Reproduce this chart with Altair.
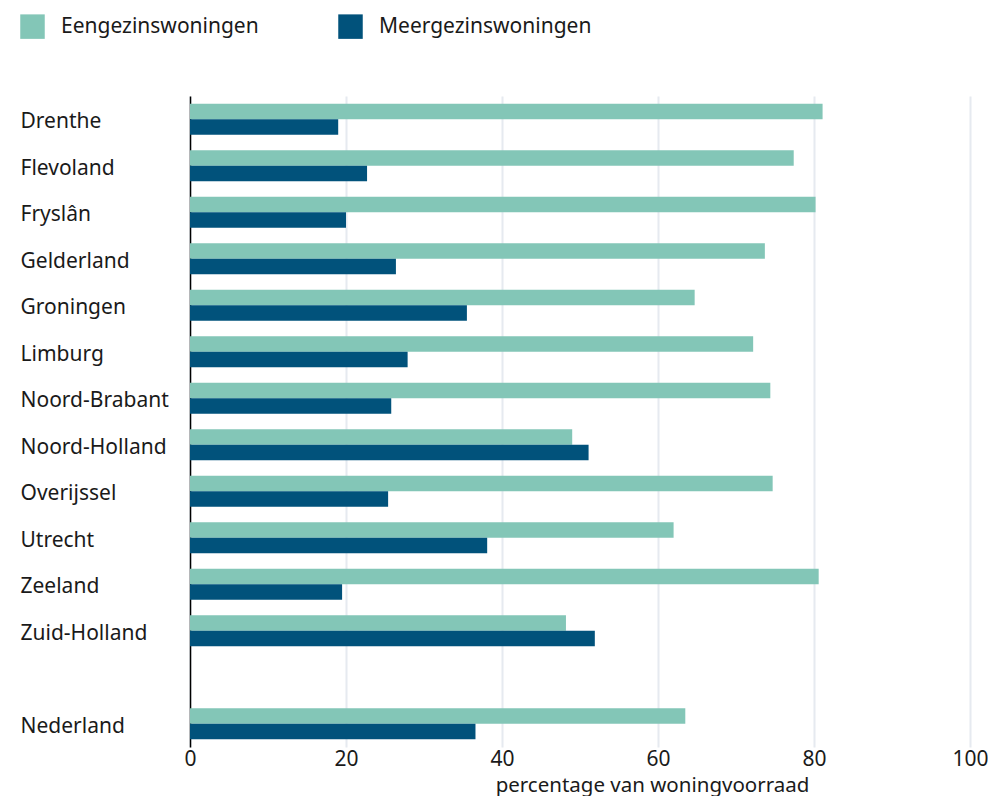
import altair as alt
import pandas as pd

provinces = ["Drenthe", "Flevoland", "Fryslân", "Gelderland", "Groningen", "Limburg",
             "Noord-Brabant", "Noord-Holland", "Overijssel", "Utrecht", "Zeeland",
             "Zuid-Holland", "Nederland"]
eengezins = [81.1, 77.4, 80.2, 73.7, 64.7, 72.2, 74.4, 49.0, 74.7, 62.0, 80.6, 48.2, 63.5]
meergezins = [19.0, 22.7, 20.0, 26.4, 35.5, 27.9, 25.8, 51.1, 25.4, 38.1, 19.5, 51.9, 36.6]
series = ["Eengezinswoningen", "Meergezinswoningen"]
colors = ["#83c6b7", "#01527b"]
x_ticks = [0, 20, 40, 60, 80, 100]

rows = []
for p, e, m in zip(provinces, eengezins, meergezins):
    rows.append({"regio": p, "type": series[0], "waarde": e})
    rows.append({"regio": p, "type": series[1], "waarde": m})
df = pd.DataFrame(rows)

y_domain = provinces[:12] + [" "] + provinces[12:]

FONT = "Noto Sans"
TXT = "#1a1a1a"
FS = 21

chart = alt.Chart(df).mark_bar().encode(
    x=alt.X("waarde:Q",
            scale=alt.Scale(domain=[0, 100], nice=False),
            axis=alt.Axis(values=x_ticks, title="percentage van woningvoorraad",
                          domain=False, ticks=False, grid=True,
                          gridColor="#e6eaf0", gridWidth=2,
                          labelFlush=False,
                          labelFontSize=FS, labelColor=TXT, labelFont=FONT,
                          labelPadding=1,
                          titleFontSize=20.5, titleColor=TXT, titleFont=FONT,
                          titleFontWeight="normal",
                          titleAlign="center", titleX=462, titleY=44,
                          titleBaseline="alphabetic")),
    y=alt.Y("regio:N",
            scale=alt.Scale(domain=y_domain, paddingInner=1/3, paddingOuter=1/6),
            axis=alt.Axis(title=None, domain=True, domainColor="#000000",
                          domainWidth=1.5, ticks=False, grid=False,
                          labelAlign="left", labelPadding=170, labelLimit=200,
                          labelOffset=3,
                          labelFontSize=FS, labelColor=TXT, labelFont=FONT)),
    yOffset=alt.YOffset("type:N", scale=alt.Scale(domain=series, paddingInner=0, paddingOuter=0)),
    color=alt.Color("type:N",
                    scale=alt.Scale(domain=series, range=colors),
                    legend=alt.Legend(title=None, orient="none", legendX=-170, legendY=-82,
                                      direction="horizontal", symbolType="square",
                                      symbolSize=600, symbolStrokeWidth=0,
                                      labelFontSize=FS, labelColor=TXT, labelFont=FONT,
                                      labelLimit=400,
                                      labelOffset=16, columnPadding=79)),
).properties(
    width=780,
    height=651,
    autosize=alt.AutoSizeParams(type="none"),
    padding={"left": 182, "top": 88, "right": 18, "bottom": 49},
).configure_view(stroke=None)

chart.save("out.html", embed_options={"renderer": "svg", "actions": False})
